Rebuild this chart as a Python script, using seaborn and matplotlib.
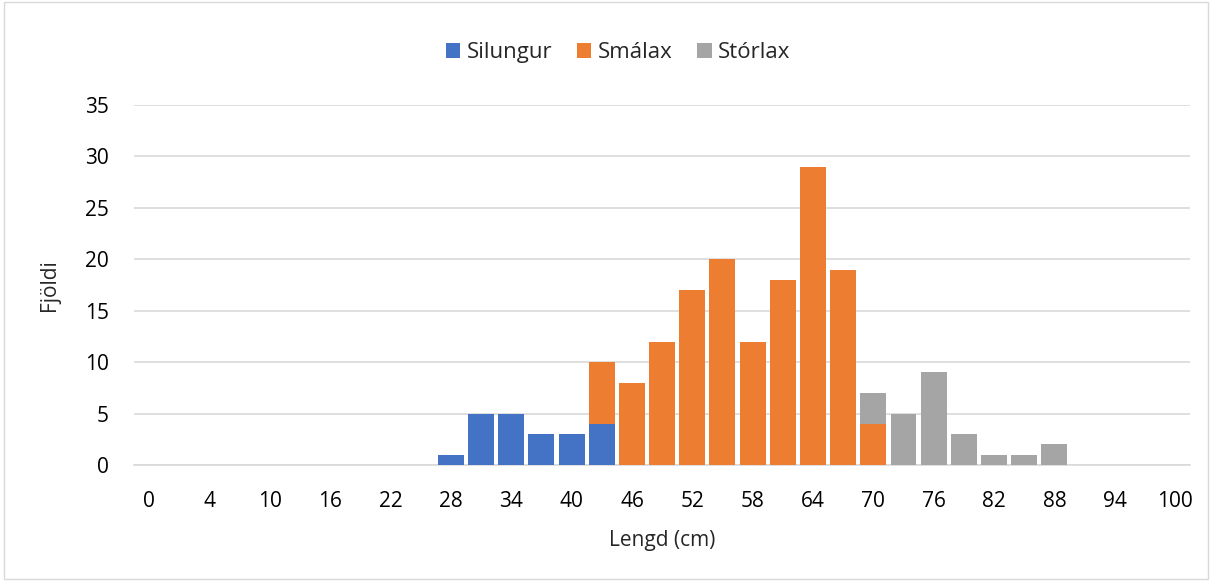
import pandas as pd
import matplotlib.pyplot as plt
import seaborn as sns
from matplotlib.patches import Rectangle

# Length classes (cm) on the x axis, only every other one is labelled
lengths = [0, 1, 4, 7, 10, 13, 16, 19, 22, 25, 28, 31, 34, 37, 40, 43, 46, 49,
           52, 55, 58, 61, 64, 67, 70, 73, 76, 79, 82, 85, 88, 91, 94, 97, 100]
silungur = [0, 0, 0, 0, 0, 0, 0, 0, 0, 0, 1, 5, 5, 3, 3, 4, 0, 0,
            0, 0, 0, 0, 0, 0, 0, 0, 0, 0, 0, 0, 0, 0, 0, 0, 0]
smalax = [0, 0, 0, 0, 0, 0, 0, 0, 0, 0, 0, 0, 0, 0, 0, 6, 8, 12,
          17, 20, 12, 18, 29, 19, 4, 0, 0, 0, 0, 0, 0, 0, 0, 0, 0]
storlax = [0, 0, 0, 0, 0, 0, 0, 0, 0, 0, 0, 0, 0, 0, 0, 0, 0, 0,
           0, 0, 0, 0, 0, 0, 3, 5, 9, 3, 1, 1, 2, 0, 0, 0, 0]

df = pd.DataFrame({'Lengd': [str(v) for v in lengths],
                   'Silungur': silungur, 'Smálax': smalax, 'Stórlax': storlax})
order = df['Lengd'].tolist()

sns.set_style('white')
plt.rcParams['font.family'] = ['Open Sans', 'DejaVu Sans']

fig = plt.figure(figsize=(12.12, 5.81), dpi=100)
ax = fig.add_axes([0.1106, 0.1997, 0.8714, 0.6196])

colors = {'Silungur': '#4472C4', 'Smálax': '#ED7D31', 'Stórlax': '#A5A5A5'}
bottom = [0] * len(df)
for name in ['Silungur', 'Smálax', 'Stórlax']:
    sns.barplot(data=df, x='Lengd', y=name, order=order, color=colors[name],
                bottom=bottom, width=0.86, ax=ax, label=name, zorder=3,
                saturation=1, linewidth=0)
    bottom = [b + v for b, v in zip(bottom, df[name])]

ax.set_ylim(0, 35)
ax.set_yticks(range(0, 36, 5))
ax.set_xlim(-0.5, len(order) - 0.5)
ax.set_xticks(range(0, len(order), 2))
ax.set_xticklabels(order[::2])
ax.yaxis.grid(True, color='#D9D9D9', linewidth=1.2, zorder=0)
ax.set_axisbelow(True)
for s in ['left', 'right', 'top']:
    ax.spines[s].set_visible(False)
ax.spines['bottom'].set_color('#D9D9D9')
ax.spines['bottom'].set_linewidth(1.2)
ax.tick_params(axis='y', length=0, labelsize=15, colors='#000000', pad=18)
ax.tick_params(axis='x', length=0, labelsize=15, colors='#000000', pad=19)
ax.set_xlabel('Lengd (cm)', fontsize=15, labelpad=13)
ax.set_ylabel('Fjöldi', fontsize=15, labelpad=18)

# legend sits centred on the chart area, not on the plot area
handles, labels = ax.get_legend_handles_labels()
if ax.get_legend() is not None:
    ax.get_legend().remove()
fig.legend(handles, labels, loc='center', bbox_to_anchor=(0.51, 0.909), ncol=3,
           frameon=False, fontsize=16, handlelength=0.65, handleheight=0.65,
           handletextpad=0.3, columnspacing=1.1)

fig.patches.append(Rectangle((0.003, 0.003), 0.994, 0.994, transform=fig.transFigure,
                             fill=False, edgecolor='#D9D9D9', linewidth=1))

fig.savefig('out.png', dpi=100)
plt.close()
